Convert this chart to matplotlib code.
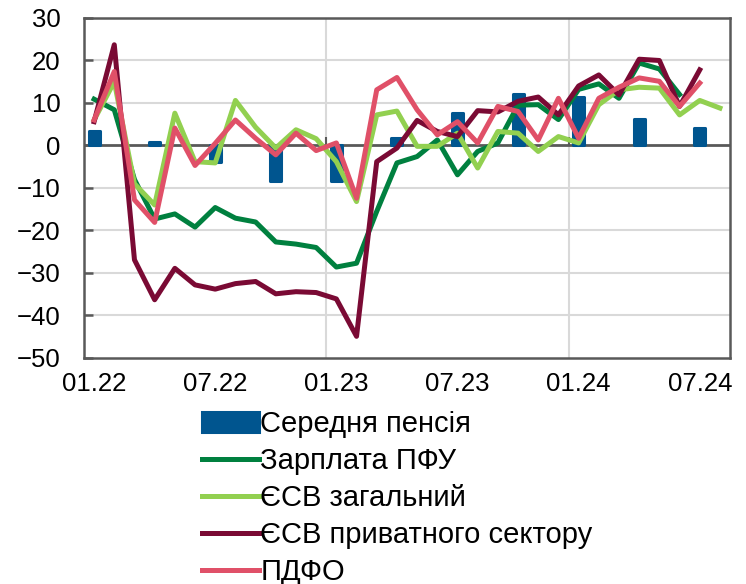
import numpy as np
import matplotlib
matplotlib.use("Agg")
from matplotlib import pyplot as plt

plt.rcParams['font.family'] = ['Liberation Sans', 'DejaVu Sans']

# Monthly data, 01.22 .. 08.24 (32 months)
months = ["01.22", "02.22", "03.22", "04.22", "05.22", "06.22", "07.22", "08.22",
          "09.22", "10.22", "11.22", "12.22", "01.23", "02.23", "03.23", "04.23",
          "05.23", "06.23", "07.23", "08.23", "09.23", "10.23", "11.23", "12.23",
          "01.24", "02.24", "03.24", "04.24", "05.24", "06.24", "07.24", "08.24"]
nan = np.nan

# Середня пенсія (quarterly bars)
pension = [3.5, nan, nan, 0.8, nan, nan, -4.0, nan, nan, -8.4, nan, nan,
           -8.3, nan, nan, 1.8, nan, nan, 7.6, nan, nan, 12.0, nan, nan,
           11.3, nan, nan, 6.3, nan, nan, 4.0, nan]
# Зарплата ПФУ
salary_pfu = [10.9, 8.4, -8.0, -17.3, -16.1, -19.2, -14.6, -17.1, -18.0, -22.7, -23.2, -24.0,
              -28.6, -27.7, -15.5, -4.1, -2.6, 1.3, -6.9, -1.4, 0.6, 9.5, 9.6, 6.1,
              13.2, 14.5, 11.1, 19.4, 18.0, 12.0, nan, nan]
# ЄСВ загальний
esv_total = [6.0, 15.0, -9.0, -14.0, 7.6, -3.8, -4.1, 10.6, 4.3, -0.6, 3.7, 1.6,
             -3.8, -13.2, 7.2, 8.1, -0.2, -0.2, 2.9, -5.3, 3.3, 2.9, -1.4, 2.1,
             0.6, 9.6, 13.1, 13.7, 13.5, 7.2, 10.6, 8.8]
# ЄСВ приватного сектору
esv_private = [5.6, 23.7, -26.9, -36.3, -28.9, -32.8, -33.8, -32.5, -32.0, -34.9, -34.4, -34.6,
               -36.1, -44.9, -3.8, -0.6, 5.9, 3.3, 2.1, 8.2, 7.9, 10.4, 11.4, 7.2,
               14.0, 16.6, 11.9, 20.3, 20.0, 9.2, 17.8, nan]
# ПДФО
pdfo = [6.0, 17.4, -12.8, -18.1, 4.1, -4.7, 0.5, 6.0, 1.7, -2.2, 2.9, -1.2,
        0.6, -12.4, 13.1, 16.0, 8.4, 2.5, 5.6, 0.6, 9.2, 8.0, 1.3, 11.1,
        1.7, 11.1, 13.7, 15.9, 15.1, 9.2, 14.7, nan]

c_blue = "#00558F"
c_green = "#00803F"
c_lgreen = "#92D050"
c_dred = "#7A0A34"
c_pink = "#E05068"
c_axis = "#595959"
c_grid = "#D9D9D9"

x = np.arange(len(months))

fig = plt.figure(figsize=(7.46, 5.84), dpi=100)
ax = fig.add_axes([0.1126, 0.387, 0.866, 0.5822])

# grid
for v in range(-40, 31, 10):
    if v != 0:
        ax.axhline(v, color=c_grid, lw=1.5, zorder=0)
for b in [11.5, 23.5]:
    ax.axvline(b, color=c_grid, lw=1.5, zorder=0)

bars = ax.bar(x, pension, width=0.55, color=c_blue, edgecolor=c_blue, lw=2.2,
              label="Середня пенсія", zorder=2)
for p in bars.patches:
    p.set_joinstyle("round")

ax.axhline(0, color=c_axis, lw=2, zorder=1)
ax.vlines([11.5, 23.5], 0, 2.1, color=c_axis, lw=1.5, zorder=1)

lw = 3.6
ax.plot(x, salary_pfu, color=c_green, lw=lw, label="Зарплата ПФУ", zorder=3)
ax.plot(x, esv_total, color=c_lgreen, lw=lw, label="ЄСВ загальний", zorder=4)
ax.plot(x, esv_private, color=c_dred, lw=lw, label="ЄСВ приватного сектору", zorder=5)
ax.plot(x, pdfo, color=c_pink, lw=lw, label="ПДФО", zorder=6)

ax.set_xlim(-0.5, len(months) - 0.5)
ax.set_ylim(-50, 30)
ax.set_yticks(range(-50, 31, 10))
ax.set_xticks(x[::6])
ax.set_xticklabels(months[::6])
ax.tick_params(axis="y", direction="in", length=6.5, width=1.8, color=c_axis,
               pad=17, labelsize=18.5)
ax.tick_params(axis="x", length=0, pad=10, labelsize=18.5)
for s in ax.spines.values():
    s.set_color(c_axis)
    s.set_linewidth(1.8)

handles, labels = ax.get_legend_handles_labels()
order = [labels.index("Середня пенсія")] + [i for i, l in enumerate(labels) if l != "Середня пенсія"]
leg = fig.legend([handles[i] for i in order], [labels[i] for i in order],
                 loc="upper left", bbox_to_anchor=(202 / 746, 1 - 410 / 584),
                 frameon=False, fontsize=21, handlelength=1.95, handletextpad=0.05,
                 labelspacing=0.31, borderaxespad=0, borderpad=0)

fig.savefig("out.png", dpi=100)
